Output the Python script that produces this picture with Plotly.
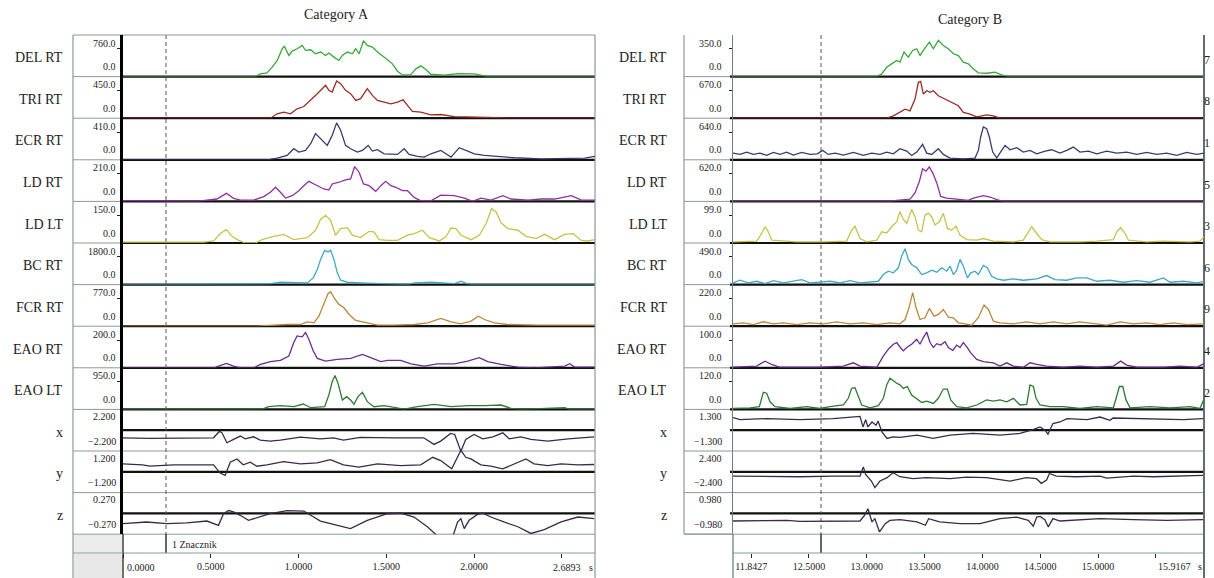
import plotly.graph_objects as go

# ======================= DATA =======================
ROW_NAMES = ["DEL RT", "TRI RT", "ECR RT", "LD RT", "LD LT", "BC RT", "FCR RT",
             "EAO RT", "EAO LT", "x", "y", "z"]
A_SCALE = ["760.0", "450.0", "410.0", "210.0", "150.0", "1800.0", "770.0", "200.0",
           "950.0", "2.200", "1.200", "0.270"]
B_SCALE = ["350.0", "670.0", "640.0", "620.0", "99.0", "490.0", "220.0", "100.0",
           "120.0", "1.300", "2.400", "0.980"]
B_EDGE = ["7", "8", "1", "5", "3", "6", "9", "4", "2"]

A_RANGE = [0.0, 2.6893]
A_TICKS = [0.0, 0.5, 1.0, 1.5, 2.0, 2.5]
A_TICKTEXT = ["", "0.5000", "1.0000", "1.5000", "2.0000", ""]
B_RANGE = [11.8427, 15.9167]
B_TICKS = [12.0, 12.5, 13.0, 13.5, 14.0, 14.5, 15.0, 15.5]
B_TICKTEXT = ["11.8427", "12.5000", "13.0000", "13.5000", "14.0000", "14.5000", "15.0000", ""]

# ---------- Category A ----------
a_del_t = [0, 0.754, 0.783, 0.82, 0.85, 0.879, 0.907, 0.92, 0.945, 0.964, 0.992, 1.021, 1.04,
           1.069, 1.097, 1.126, 1.154, 1.173, 1.202, 1.23, 1.25, 1.278, 1.307, 1.326, 1.345,
           1.37, 1.392, 1.421, 1.45, 1.478, 1.507, 1.535, 1.564, 1.592, 1.64, 1.669, 1.697,
           1.726, 1.754, 1.83, 1.907, 2.002, 2.059, 2.08, 2.689]
a_del_v = [0, 0, 74, 101, 258, 442, 764, 828, 580, 699, 764, 856, 718, 736, 626, 672, 580,
           644, 534, 442, 580, 672, 626, 764, 626, 975, 856, 810, 672, 580, 460, 350, 147, 46,
           55, 212, 294, 193, 64, 37, 83, 74, 28, 0, 0]

a_tri_t = [0, 0.84, 0.878, 0.916, 0.954, 0.992, 1.03, 1.069, 1.107, 1.135, 1.154, 1.173, 1.192,
           1.217, 1.24, 1.268, 1.297, 1.326, 1.354, 1.392, 1.421, 1.45, 1.488, 1.526, 1.564,
           1.596, 1.621, 1.649, 1.697, 1.754, 1.811, 1.888, 2.078, 2.23, 2.689]
a_tri_v = [0, 0, 71, 98, 71, 152, 190, 288, 397, 479, 533, 452, 424, 604, 560, 452, 397, 288,
           316, 479, 370, 288, 261, 234, 261, 299, 207, 109, 98, 54, 60, 27, 11, 0, 0]

a_ecr_t = [0, 0.821, 0.878, 0.935, 0.973, 1.002, 1.04, 1.069, 1.097, 1.126, 1.164, 1.192,
           1.217, 1.24, 1.268, 1.297, 1.335, 1.364, 1.397, 1.421, 1.45, 1.488, 1.526, 1.564,
           1.602, 1.63, 1.678, 1.716, 1.754, 1.811, 1.84, 1.869, 1.916, 1.964, 2.002, 2.059,
           2.135, 2.23, 2.383, 2.517, 2.63, 2.689]
a_ecr_v = [0, 0, 25, 64, 164, 114, 139, 238, 387, 312, 213, 362, 546, 436, 213, 164, 114, 139,
           213, 129, 149, 89, 89, 79, 164, 79, 50, 40, 89, 139, 89, 40, 179, 129, 89, 64, 50,
           30, 15, 20, 25, 50]

a_ldr_t = [0, 0.23, 0.42, 0.535, 0.589, 0.63, 0.669, 0.745, 0.802, 0.84, 0.869, 0.897, 0.926,
           0.964, 1.002, 1.03, 1.059, 1.088, 1.116, 1.145, 1.173, 1.192, 1.23, 1.268, 1.297,
           1.32, 1.345, 1.37, 1.402, 1.44, 1.469, 1.497, 1.526, 1.554, 1.592, 1.621, 1.659,
           1.697, 1.754, 1.811, 1.888, 1.945, 1.992, 2.04, 2.097, 2.164, 2.211, 2.307, 2.383,
           2.459, 2.555, 2.611, 2.689]
a_ldr_v = [5, 5, 0, 18, 61, 23, 10, 10, 36, 69, 107, 69, 25, 43, 81, 119, 152, 132, 112, 94,
           86, 132, 145, 163, 170, 264, 221, 132, 119, 76, 119, 152, 119, 107, 81, 81, 30, 5, 5,
           48, 43, 25, 0, 25, 10, 43, 18, 10, 18, 18, 43, 10, 10]

a_ldl_t = [0, 0.17, 0.459, 0.516, 0.554, 0.589, 0.621, 0.659, 0.697, 0.754, 0.792, 0.859,
           0.916, 0.973, 1.05, 1.097, 1.126, 1.154, 1.183, 1.211, 1.24, 1.278, 1.307, 1.354,
           1.402, 1.43, 1.459, 1.507, 1.564, 1.621, 1.659, 1.707, 1.745, 1.802, 1.84, 1.869,
           1.897, 1.926, 1.983, 2.03, 2.069, 2.1, 2.126, 2.154, 2.192, 2.249, 2.297, 2.354,
           2.402, 2.459, 2.516, 2.564, 2.611, 2.65, 2.689]
a_ldl_v = [5, 5, 5, 11, 51, 72, 36, 14, 0, 0, 18, 36, 47, 18, 29, 69, 127, 150, 123, 42, 78, 83,
           42, 29, 63, 60, 18, 14, 14, 42, 51, 69, 29, 11, 33, 81, 78, 42, 18, 42, 105, 186, 168,
           109, 78, 69, 36, 24, 47, 18, 47, 51, 14, 11, 18]

a_bc_t = [0, 0.81, 0.83, 0.897, 1.011, 1.05, 1.084, 1.107, 1.126, 1.149, 1.168, 1.183, 1.202,
          1.221, 1.24, 1.278, 1.354, 1.469, 1.621, 1.659, 1.754, 1.888, 1.926, 1.964, 2.0, 2.689]
a_bc_v = [0, 0, 44, 153, 153, 109, 436, 981, 1635, 2224, 2115, 2224, 1635, 763, 283, 153, 109,
          44, 0, 109, 153, 65, 218, 44, 0, 0]

a_fcr_t = [0, 0.754, 0.935, 1.011, 1.05, 1.088, 1.116, 1.145, 1.168, 1.183, 1.202, 1.23, 1.259,
           1.288, 1.326, 1.392, 1.45, 1.545, 1.659, 1.735, 1.811, 1.869, 1.926, 1.983, 2.025,
           2.059, 2.116, 2.192, 2.364, 2.689]
a_fcr_v = [0, 0, 47, 47, 121, 93, 279, 605, 902, 958, 791, 605, 512, 326, 158, 93, 28, 28, 47,
           93, 214, 121, 65, 140, 279, 186, 93, 47, 28, 28]

a_eaor_t = [0, 0.52, 0.545, 0.589, 0.63, 0.669, 0.745, 0.783, 0.84, 0.897, 0.945, 0.973, 0.992,
            1.021, 1.04, 1.059, 1.084, 1.107, 1.154, 1.221, 1.297, 1.364, 1.411, 1.469, 1.507,
            1.583, 1.64, 1.716, 1.792, 1.888, 1.964, 2.03, 2.078, 2.154, 2.25, 2.345, 2.516,
            2.545, 2.573, 2.689]
a_eaor_v = [0, 0, 12, 31, 12, 0, 0, 24, 44, 53, 85, 182, 230, 223, 254, 206, 121, 68, 48, 61,
            68, 97, 73, 44, 53, 53, 29, 12, 29, 29, 48, 73, 44, 24, 5, 0, 12, 29, 5, 5]

a_eaol_t = [0, 0.78, 0.793, 0.83, 0.897, 0.973, 1.027, 1.069, 1.149, 1.173, 1.192, 1.208, 1.225,
            1.25, 1.274, 1.297, 1.316, 1.339, 1.364, 1.392, 1.43, 1.488, 1.545, 1.602, 1.678,
            1.773, 1.869, 1.964, 2.059, 2.154, 2.211, 2.268, 2.516, 2.545, 2.689]
a_eaol_v = [0, 0, 12, 92, 127, 92, 184, 58, 92, 495, 955, 1162, 897, 322, 437, 322, 173, 437,
            587, 265, 92, 127, 58, 12, 92, 173, 92, 127, 127, 150, 35, 0, 58, 0, 0]

a_x_t = [0, 0.154, 0.516, 0.55, 0.564, 0.592, 0.63, 0.668, 0.697, 0.744, 0.782, 0.839, 0.897,
         1.011, 1.125, 1.2, 1.256, 1.353, 1.544, 1.713, 1.772, 1.81, 1.867, 1.89, 1.925, 1.953,
         2.0, 2.05, 2.107, 2.164, 2.2, 2.267, 2.324, 2.42, 2.536, 2.684]
a_x_v = [-1.3, -1.41, -1.3, -0.17, -0.45, -2.14, -1.58, -1.0, -1.47, -1.13, -1.69, -1.86, -1.69,
         -1.2, -1.47, -1.3, -1.69, -1.24, -1.3, -1.3, -2.43, -1.86, -0.56, -0.73, -3.6, -1.58,
         -0.73, -1.47, -1.13, -0.45, -1.47, -1.13, -1.58, -1.86, -1.47, -1.13]

a_y_t = [0, 0.11, 0.154, 0.286, 0.516, 0.554, 0.582, 0.611, 0.649, 0.685, 0.725, 0.763, 0.82,
         0.914, 1.011, 1.106, 1.181, 1.256, 1.344, 1.45, 1.582, 1.696, 1.765, 1.81, 1.873, 1.925,
         1.953, 1.982, 2.039, 2.096, 2.164, 2.227, 2.296, 2.342, 2.42, 2.496, 2.592, 2.684]
a_y_v = [0.74, 0.65, 0.52, 0.65, 0.65, -0.12, -0.34, 0.89, 1.2, 0.65, 0.89, 0.52, 0.65, 0.95,
         0.74, 0.83, 1.14, 0.65, 0.43, 0.74, 0.58, 0.65, 1.35, 1.05, 0.28, 2.0, 1.35, 1.2, 0.65,
         0.52, 0.28, 0.74, 1.2, 0.74, 0.58, 0.74, 0.65, 0.68]

a_z_t = [0, 0.133, 0.25, 0.364, 0.478, 0.544, 0.572, 0.601, 0.63, 0.668, 0.715, 0.763, 0.839,
         0.935, 1.03, 1.125, 1.22, 1.296, 1.392, 1.506, 1.582, 1.658, 1.734, 1.8, 1.878, 1.906,
         1.925, 1.944, 1.972, 2.02, 2.05, 2.096, 2.17, 2.25, 2.324, 2.4, 2.496, 2.592, 2.684]
a_z_v = [-0.215, -0.18, -0.215, -0.2, -0.16, -0.25, -0.01, 0.06, 0.03, -0.04, -0.145, -0.09,
         -0.007, 0.06, 0.05, -0.16, -0.25, -0.32, -0.145, -0.007, 0.007, -0.076, -0.28, -0.5,
         -0.5, -0.18, -0.11, -0.32, -0.145, -0.02, 0.007, -0.076, -0.18, -0.28, -0.42, -0.34,
         -0.18, -0.076, -0.11]

# ---------- Category B ----------
b_del_t = [11.843, 13.086, 13.129, 13.172, 13.215, 13.259, 13.287, 13.322, 13.359, 13.397,
           13.432, 13.46, 13.498, 13.541, 13.576, 13.619, 13.662, 13.705, 13.749, 13.792,
           13.835, 13.878, 13.922, 13.965, 14.037, 14.109, 14.167, 14.225, 15.917]
b_del_v = [0, 0, 34, 118, 161, 203, 182, 309, 245, 330, 351, 266, 351, 436, 351, 457, 393, 351,
           288, 266, 182, 161, 97, 47, 42, 55, 21, 0, 0]

b_tri_t = [11.843, 13.172, 13.23, 13.287, 13.331, 13.374, 13.417, 13.446, 13.466, 13.489,
           13.518, 13.547, 13.576, 13.619, 13.677, 13.734, 13.792, 13.835, 13.893, 13.951,
           14.037, 14.095, 14.152, 15.917]
b_tri_v = [0, 0, 57, 138, 219, 178, 462, 867, 891, 583, 664, 624, 664, 543, 462, 381, 300, 138,
           97, 32, 81, 57, 0, 0]

b_ecr_t = [11.843, 11.903, 11.961, 12.019, 12.076, 12.134, 12.192, 12.249, 12.307, 12.365,
           12.437, 12.509, 12.572, 12.618, 12.667, 12.725, 12.797, 12.884, 12.970, 13.042,
           13.114, 13.172, 13.230, 13.287, 13.345, 13.388, 13.432, 13.483, 13.518, 13.561,
           13.619, 13.662, 13.720, 13.835, 13.936, 13.965, 13.985, 14.008, 14.037, 14.060,
           14.089, 14.124, 14.167, 14.196, 14.239, 14.297, 14.354, 14.412, 14.470, 14.542,
           14.599, 14.671, 14.729, 14.787, 14.844, 14.917, 14.989, 15.075, 15.162, 15.248,
           15.335, 15.421, 15.508, 15.594, 15.681, 15.767, 15.854, 15.917]
b_ecr_v = [155, 124, 178, 124, 155, 101, 170, 124, 178, 108, 170, 124, 139, 217, 124, 155, 108,
           170, 101, 155, 124, 178, 139, 255, 201, 101, 178, 356, 155, 124, 255, 124, 39, 23, 39,
           217, 526, 759, 720, 526, 178, 46, 217, 333, 232, 279, 178, 217, 139, 201, 232, 155,
           217, 294, 178, 201, 139, 201, 155, 178, 124, 170, 124, 155, 101, 170, 124, 155]

b_ldr_t = [11.843, 13.2, 13.259, 13.374, 13.417, 13.455, 13.483, 13.512, 13.541, 13.570, 13.605,
           13.639, 13.691, 13.778, 13.878, 13.922, 14.008, 14.066, 14.124, 14.181, 15.917]
b_ldr_v = [0, 0, 22, 52, 188, 450, 728, 675, 773, 638, 413, 113, 75, 52, 22, 75, 128, 98, 38,
           0, 0]

b_ldl_t = [11.843, 12.047, 12.091, 12.120, 12.148, 12.177, 12.393, 12.624, 12.826, 12.869,
           12.898, 12.941, 12.999, 13.086, 13.129, 13.172, 13.215, 13.259, 13.287, 13.316,
           13.345, 13.388, 13.417, 13.446, 13.475, 13.504, 13.532, 13.561, 13.590, 13.628,
           13.662, 13.697, 13.734, 13.772, 13.806, 13.864, 13.951, 14.008, 14.095, 14.268,
           14.354, 14.398, 14.426, 14.470, 14.513, 14.585, 14.844, 14.989, 15.133, 15.162,
           15.196, 15.234, 15.263, 15.421, 15.565, 15.796, 15.882, 15.917]
b_ldl_v = [4, 7, 34, 58, 40, 10, 4, 4, 7, 46, 60, 16, 4, 10, 40, 36, 58, 76, 112, 84, 70, 120,
           94, 46, 40, 100, 106, 94, 64, 76, 106, 52, 46, 60, 28, 12, 10, 16, 7, 4, 10, 40, 58,
           34, 12, 4, 4, 7, 12, 40, 55, 34, 10, 4, 7, 4, 7, 22]

b_bc_t = [11.843, 11.903, 11.975, 12.047, 12.120, 12.192, 12.278, 12.350, 12.437, 12.509,
          12.595, 12.682, 12.768, 12.855, 12.941, 13.028, 13.100, 13.143, 13.186, 13.230,
          13.273, 13.302, 13.331, 13.359, 13.388, 13.432, 13.475, 13.518, 13.561, 13.605,
          13.648, 13.691, 13.720, 13.749, 13.778, 13.806, 13.835, 13.870, 13.899, 13.936,
          13.965, 14.008, 14.043, 14.080, 14.124, 14.181, 14.268, 14.354, 14.470, 14.556,
          14.628, 14.729, 14.816, 14.902, 14.989, 15.104, 15.219, 15.335, 15.450, 15.565,
          15.623, 15.738, 15.854, 15.917]
b_bc_v = [30, 77, 30, 59, 18, 71, 30, 59, 89, 30, 42, 59, 30, 71, 30, 42, 59, 178, 237, 208,
          297, 504, 635, 445, 356, 297, 178, 208, 255, 219, 297, 237, 326, 178, 255, 445, 326,
          119, 208, 237, 178, 338, 297, 148, 101, 77, 101, 77, 101, 160, 89, 77, 119, 119, 59,
          77, 42, 71, 42, 119, 42, 59, 30, 59]

b_fcr_t = [11.843, 11.932, 12.019, 12.105, 12.192, 12.278, 12.393, 12.509, 12.624, 12.739,
           12.855, 12.970, 13.086, 13.201, 13.287, 13.331, 13.365, 13.397, 13.426, 13.460,
           13.504, 13.541, 13.582, 13.619, 13.662, 13.705, 13.749, 13.792, 13.850, 13.907,
           13.965, 14.014, 14.052, 14.095, 14.152, 14.268, 14.383, 14.498, 14.614, 14.729,
           14.844, 14.960, 15.075, 15.190, 15.306, 15.421, 15.536, 15.652, 15.767, 15.917]
b_fcr_v = [19, 27, 13, 35, 19, 27, 13, 27, 19, 35, 19, 27, 13, 27, 19, 53, 146, 266, 146, 53,
           67, 141, 80, 93, 133, 72, 67, 27, 19, 8, 67, 168, 133, 40, 27, 19, 35, 19, 35, 19, 35,
           19, 8, 35, 19, 27, 13, 27, 13, 19]

b_eaor_t = [11.843, 12.047, 12.120, 12.177, 12.249, 12.393, 12.595, 12.797, 12.884, 12.941,
            13.086, 13.143, 13.186, 13.230, 13.259, 13.287, 13.316, 13.345, 13.388, 13.432,
            13.460, 13.489, 13.518, 13.547, 13.576, 13.605, 13.639, 13.677, 13.705, 13.743,
            13.778, 13.806, 13.835, 13.870, 13.899, 13.951, 14.008, 14.095, 14.152, 14.210,
            14.268, 14.354, 14.412, 14.470, 14.556, 14.700, 14.844, 14.989, 15.133, 15.196,
            15.248, 15.335, 15.565, 15.709, 15.854, 15.917]
b_eaor_v = [2, 6, 24, 12, 2, 2, 2, 6, 18, 6, 2, 42, 67, 85, 91, 75, 61, 73, 85, 103, 85, 109,
            129, 91, 73, 87, 82, 94, 73, 63, 82, 73, 91, 73, 54, 30, 22, 18, 6, 18, 6, 2, 18, 12,
            6, 2, 6, 2, 6, 24, 10, 2, 2, 6, 2, 15]

b_eaol_t = [11.843, 11.990, 12.071, 12.091, 12.105, 12.134, 12.163, 12.206, 12.336, 12.480,
            12.595, 12.682, 12.797, 12.840, 12.869, 12.898, 12.927, 12.956, 13.028, 13.100,
            13.143, 13.172, 13.201, 13.230, 13.259, 13.287, 13.316, 13.351, 13.388, 13.426,
            13.475, 13.518, 13.576, 13.619, 13.662, 13.697, 13.726, 13.778, 13.864, 13.951,
            14.037, 14.095, 14.152, 14.210, 14.268, 14.325, 14.383, 14.412, 14.441, 14.464,
            14.498, 14.585, 14.700, 14.844, 14.989, 15.133, 15.162, 15.185, 15.214, 15.242,
            15.277, 15.450, 15.623, 15.796, 15.882, 15.917]
b_eaol_v = [4, 7, 12, 55, 74, 70, 33, 12, 4, 12, 4, 12, 19, 48, 91, 94, 55, 19, 7, 16, 48, 106,
            135, 123, 113, 106, 91, 99, 62, 48, 30, 36, 26, 48, 88, 88, 41, 12, 7, 19, 41, 36, 41,
            33, 48, 19, 22, 106, 99, 48, 19, 12, 12, 4, 12, 7, 55, 99, 99, 41, 7, 12, 7, 12, 4, 45]

b_x_t = [11.843, 11.903, 12.137, 12.422, 12.708, 12.941, 12.967, 12.99, 13.01, 13.045, 13.08,
         13.097, 13.131, 13.175, 13.227, 13.287, 13.434, 13.573, 13.72, 13.919, 14.152, 14.325,
         14.438, 14.498, 14.541, 14.567, 14.61, 14.671, 14.732, 14.905, 15.017, 15.104, 15.13,
         15.45, 15.735, 15.908]
b_x_v = [1.27, 1.07, 1.17, 1.07, 1.17, 1.4, 0.33, 1.07, 0.33, 0.83, 0.5, 0.93, -0.17, -0.83,
         -0.67, -0.73, -0.5, -0.83, -0.5, -0.33, -0.5, -0.33, 0.07, 0.33, 0, -0.4, 0.67, 0.83,
         1.17, 1.07, 1.33, 1.0, 1.23, 1.17, 1.07, 1.17]

b_y_t = [11.843, 12.137, 12.422, 12.708, 12.941, 12.97, 12.99, 13.04, 13.07, 13.114, 13.175,
         13.227, 13.287, 13.40, 13.515, 13.72, 13.862, 14.036, 14.238, 14.38, 14.467, 14.51,
         14.555, 14.58, 14.64, 14.81, 15.017, 15.075, 15.305, 15.478, 15.65, 15.908]
b_y_v = [-0.8, -0.92, -0.92, -0.8, -0.8, 0.92, -0.49, -1.72, -2.95, -1.72, -1.1, -0.18, -0.92,
         -1.29, -1.1, -1.29, -0.98, -1.1, -1.72, -1.1, -1.29, -2.15, -1.54, -0.31, -0.8, -0.92,
         -0.8, -1.17, -0.8, -0.92, -0.8, -0.68]

b_z_t = [11.843, 12.137, 12.31, 12.422, 12.708, 12.941, 12.98, 13.01, 13.045, 13.07, 13.11,
         13.16, 13.2, 13.287, 13.434, 13.506, 13.535, 13.63, 13.807, 13.98, 14.066, 14.152,
         14.296, 14.397, 14.44, 14.47, 14.5, 14.54, 14.57, 14.61, 14.67, 14.876, 15.017, 15.305,
         15.594, 15.908]
b_z_v = [-0.58, -0.58, -0.53, -0.6, -0.58, -0.58, -0.15, 0.35, -0.65, -0.4, -1.41, -0.78,
         -0.53, -0.48, -0.65, -0.9, -0.4, -0.65, -0.78, -0.78, -0.58, -0.4, -0.28, -0.53, -0.98,
         -0.28, -0.23, -0.48, -1.03, -0.4, -0.58, -0.48, -0.4, -0.48, -0.53, -0.48]

A_SERIES = [(a_del_t, a_del_v), (a_tri_t, a_tri_v), (a_ecr_t, a_ecr_v), (a_ldr_t, a_ldr_v),
            (a_ldl_t, a_ldl_v), (a_bc_t, a_bc_v), (a_fcr_t, a_fcr_v), (a_eaor_t, a_eaor_v),
            (a_eaol_t, a_eaol_v), (a_x_t, a_x_v), (a_y_t, a_y_v), (a_z_t, a_z_v)]
B_SERIES = [(b_del_t, b_del_v), (b_tri_t, b_tri_v), (b_ecr_t, b_ecr_v), (b_ldr_t, b_ldr_v),
            (b_ldl_t, b_ldl_v), (b_bc_t, b_bc_v), (b_fcr_t, b_fcr_v), (b_eaor_t, b_eaor_v),
            (b_eaol_t, b_eaol_v), (b_x_t, b_x_v), (b_y_t, b_y_v), (b_z_t, b_z_v)]

# ======================= STYLE / LAYOUT =======================
COLORS = ["#3aa83a", "#9a2c24", "#3a3a70", "#8e2f9e", "#c8c24c", "#3ea8c2", "#b9883c",
          "#6c2c8c", "#2f7a32", "#3a2a48", "#3a2a48", "#3a2a48"]
W, H = 1214, 578
TOP = 35.0
ROW_H = 41.6
FONT = "Liberation Serif"
GRAY = "#8c9898"


def X(p):
    return p / W


def Y(p):
    return 1 - p / H


PANELS = [
    dict(series=A_SERIES, scales=A_SCALE, xname="x", xkey="xaxis", yoff=0,
         frame_l=73, plot_l=123, plot_r=595, label_x=65, tick_x=118, dash_x=166,
         rng=A_RANGE, ticks=A_TICKS, ticktext=A_TICKTEXT, axis_color="black", axis_w=2.6),
    dict(series=B_SERIES, scales=B_SCALE, xname="x2", xkey="xaxis2", yoff=12,
         frame_l=684, plot_l=733, plot_r=1204, label_x=669, tick_x=724, dash_x=821,
         rng=B_RANGE, ticks=B_TICKS, ticktext=B_TICKTEXT, axis_color="#6f7f7f", axis_w=1.3),
]

fig = go.Figure()
layout = dict(width=W, height=H, margin=dict(l=0, r=0, t=0, b=0),
              paper_bgcolor="white", plot_bgcolor="rgba(0,0,0,0)", showlegend=False,
              font=dict(family=FONT, color="#222"))
shapes = []
annots = []


def line(x0, y0, x1, y1, color=GRAY, width=1, dash=None, layer="below"):
    d = dict(type="line", xref="paper", yref="paper", x0=X(x0), y0=Y(y0), x1=X(x1), y1=Y(y1),
             line=dict(color=color, width=width), layer=layer)
    if dash:
        d["line"]["dash"] = dash
    shapes.append(d)


def text(x, y, s, size=10, anchor="right", color="#222"):
    annots.append(dict(xref="paper", yref="paper", x=X(x), y=Y(y), text=s, showarrow=False,
                       xanchor=anchor, yanchor="middle", font=dict(size=size, color=color,
                                                                   family=FONT)))


for P in PANELS:
    pl, pr = P["plot_l"], P["plot_r"]
    layout[P["xkey"]] = dict(domain=[X(pl), X(pr)], range=P["rng"], anchor="free",
                             position=Y(553), tickvals=P["ticks"], ticktext=P["ticktext"],
                             ticks="outside", ticklen=4, tickwidth=1.3, tickcolor="#222",
                             showgrid=False, zeroline=False, showline=False,
                             tickfont=dict(size=10, family=FONT, color="#222"))
    for i in range(12):
        n = P["yoff"] + i + 1
        ykey = "yaxis" if n == 1 else f"yaxis{n}"
        yname = "y" if n == 1 else f"y{n}"
        top = TOP + i * ROW_H
        bot = top + ROW_H
        s = float(P["scales"][i])
        emg = i < 9
        rng = [0, 1.5 * s] if emg else [-s * 21 / 13, s * 21 / 13]
        layout[ykey] = dict(domain=[Y(bot), Y(top)], range=rng, anchor=P["xname"],
                            showgrid=False, zeroline=False, showticklabels=False,
                            showline=True, linecolor=P["axis_color"], linewidth=P["axis_w"],
                            ticks="outside" if emg else "", tickvals=[s] if emg else [],
                            ticklen=3, tickcolor="#222")
        t, v = P["series"][i]
        fig.add_trace(go.Scatter(x=t, y=v, mode="lines", xaxis=P["xname"], yaxis=yname,
                                 line=dict(color=COLORS[i], width=1.3), hoverinfo="skip"))
        # label column separators
        line(P["frame_l"], bot, pl, bot, GRAY, 1)
        if emg:
            line(pl - 3, bot, pr, bot, "#111", 2.2)
        else:
            mid = (top + bot) / 2
            line(pl - 3, mid, pr, mid, "#111", 2.2)
            line(pl, bot, pr, bot, GRAY, 1)
        # labels
        text(P["label_x"], top + ROW_H / 2 + 2, ROW_NAMES[i], size=14)
        lab = P["scales"][i]
        if emg:
            text(P["tick_x"], top + 8, lab)
            text(P["tick_x"], bot - 10, "0.0")
        else:
            text(P["tick_x"], top + 7, lab)
            text(P["tick_x"], bot - 10, "\u2212" + lab)
    # dashed marker line
    line(P["dash_x"], TOP, P["dash_x"], 534, "#555", 1, dash="4px,3px")
    line(P["dash_x"], 534, P["dash_x"], 553, "#333", 1.5)
    # axis row line
    line(pl, 553, pr, 553, GRAY, 1)
    line(pl, 534, pl, 578, P["axis_color"] if P["yoff"] else "#222", 1.3)

# ---- Category A frame ----
line(73, TOP, 595, TOP, GRAY, 1.2)
line(73, TOP, 73, 578, GRAY, 1.2)
line(595, TOP, 595, 578, GRAY, 1.2)
shapes.append(dict(type="rect", xref="paper", yref="paper", x0=X(74), x1=X(122), y0=Y(553),
                   y1=Y(535), fillcolor="#ececec", line=dict(width=0), layer="below"))
shapes.append(dict(type="rect", xref="paper", yref="paper", x0=X(74), x1=X(122), y0=Y(578),
                   y1=Y(554), fillcolor="#e8e8e8", line=dict(width=0), layer="below"))
line(73, 553, 123, 553, GRAY, 1)
text(170, 544, "1 Znacznik", size=10, anchor="left")
text(141, 567, "0.0000", size=10, anchor="center")
text(567, 567, "2.6893", size=10, anchor="center")
text(591, 567, "s", size=10, anchor="center")
text(336, 15, "Category A", size=14, anchor="center")

# ---- Category B frame ----
line(684, TOP, 684, 534, GRAY, 1.2)
line(684, 534, 733, 534, GRAY, 1.2)
line(1204, TOP, 1204, 578, "#5f6f6f", 2)
text(1174, 566, "15.9167", size=10, anchor="center")
text(1200, 566, "s", size=10, anchor="center")
text(970, 20, "Category B", size=14, anchor="center")
for i, d in enumerate(B_EDGE):
    text(1212, TOP + i * ROW_H + ROW_H / 2 + 4, d, size=12, anchor="right")

layout["shapes"] = shapes
layout["annotations"] = annots
fig.update_layout(**layout)

fig.write_html("out.html", config={"displayModeBar": False},
               post_script="document.body.style.margin='0';")
